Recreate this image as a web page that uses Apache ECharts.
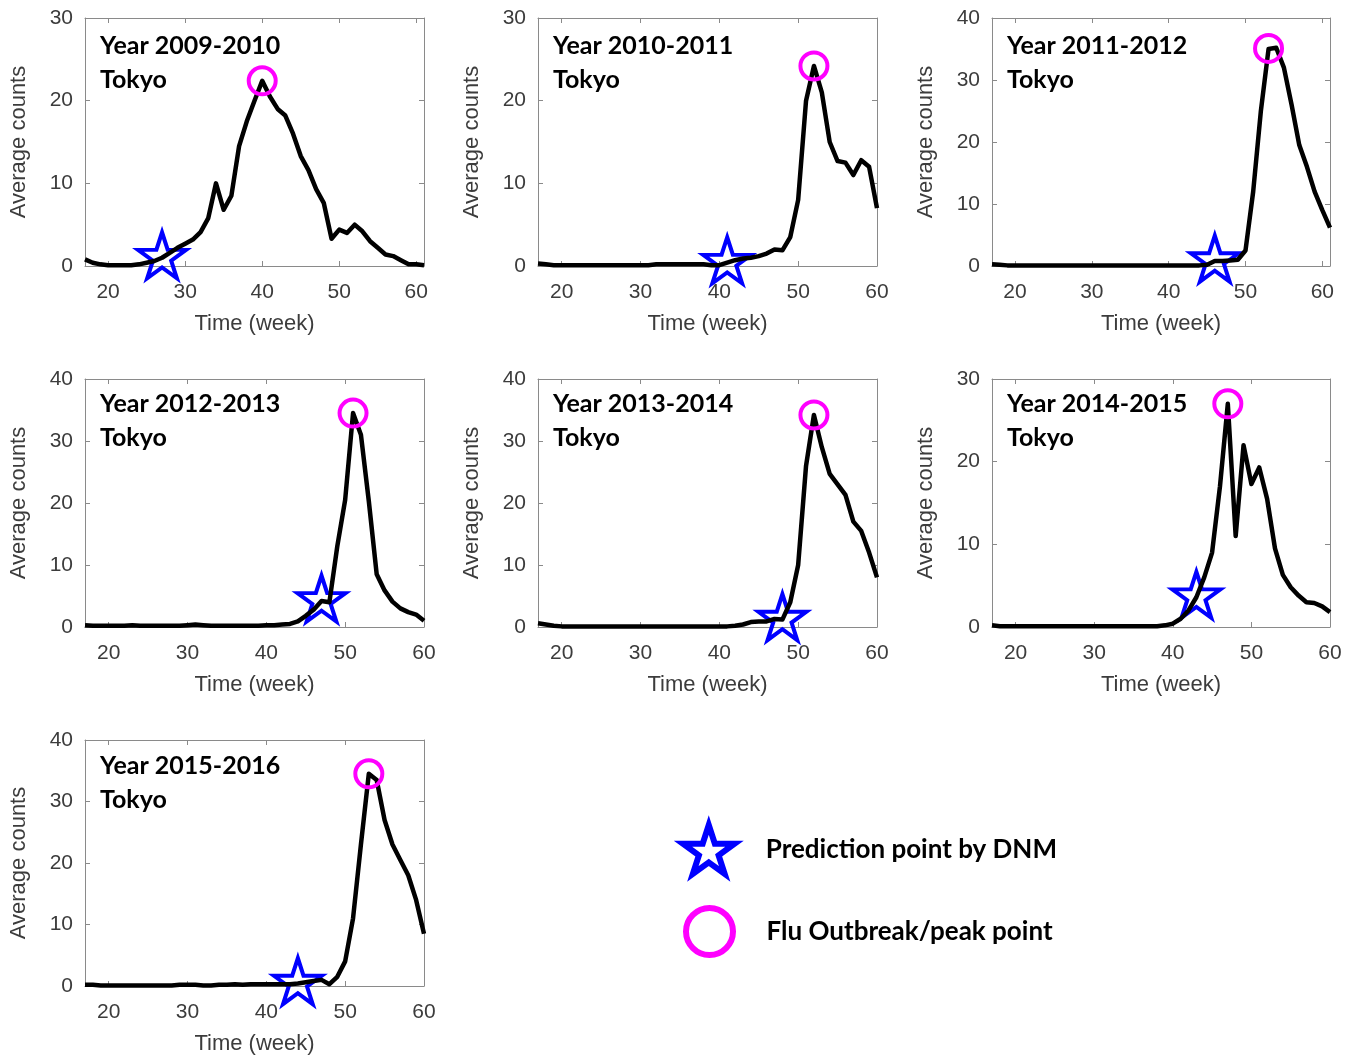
<!DOCTYPE html>
<html>
<head>
<meta charset="utf-8">
<script src="https://cdn.jsdelivr.net/npm/echarts@6/dist/echarts.min.js"></script>
<style>
html,body{margin:0;padding:0;background:#fff;}
#chart{width:1355px;height:1056px;}
</style>
</head>
<body>
<div id="chart"></div>
<script>
// ---------------- data ----------------
const weeks17to61 = [17,18,19,20,21,22,23,24,25,26,27,28,29,30,31,32,33,34,35,36,37,38,39,40,41,42,43,44,45,46,47,48,49,50,51,52,53,54,55,56,57,58,59,60,61];
const weeks17to60 = [17,18,19,20,21,22,23,24,25,26,27,28,29,30,31,32,33,34,35,36,37,38,39,40,41,42,43,44,45,46,47,48,49,50,51,52,53,54,55,56,57,58,59,60];

const seasons = ['2009-2010','2010-2011','2011-2012','2012-2013','2013-2014','2014-2015','2015-2016'];
const city = 'Tokyo';

const counts2009 = [0.8,0.4,0.2,0.1,0.1,0.1,0.1,0.2,0.4,0.6,1.0,1.6,2.2,2.7,3.2,4.1,5.8,10.0,6.8,8.5,14.5,17.5,20.0,22.4,20.5,19.0,18.2,16.0,13.3,11.6,9.3,7.6,3.3,4.4,4.0,5.0,4.2,3.0,2.2,1.4,1.2,0.7,0.2,0.2,0.1];
const counts2010 = [0.3,0.2,0.1,0.1,0.1,0.1,0.1,0.1,0.1,0.1,0.1,0.1,0.1,0.1,0.1,0.2,0.2,0.2,0.2,0.2,0.2,0.2,0.1,0.1,0.4,0.7,0.9,1.0,1.2,1.5,2.0,1.9,3.5,8.0,20.0,24.2,21.0,15.0,12.7,12.5,11.0,12.8,12.0,7.0];
const counts2011 = [0.3,0.2,0.1,0.1,0.1,0.1,0.1,0.1,0.1,0.1,0.1,0.1,0.1,0.1,0.1,0.1,0.1,0.1,0.1,0.1,0.1,0.1,0.1,0.1,0.1,0.1,0.1,0.1,0.2,0.8,0.8,0.9,1.0,2.5,12.0,25.0,35.0,35.2,32.0,26.0,19.5,16.0,12.0,9.0,6.2];
const counts2012 = [0.3,0.2,0.2,0.2,0.2,0.2,0.3,0.2,0.2,0.2,0.2,0.2,0.2,0.3,0.4,0.3,0.2,0.2,0.2,0.2,0.2,0.2,0.2,0.3,0.3,0.4,0.5,0.9,1.8,2.8,4.2,4.0,13.0,20.5,34.5,31.0,20.3,8.5,5.9,4.1,3.0,2.4,2.0,1.0];
const counts2013 = [0.6,0.4,0.2,0.1,0.1,0.1,0.1,0.1,0.1,0.1,0.1,0.1,0.1,0.1,0.1,0.1,0.1,0.1,0.1,0.1,0.1,0.1,0.1,0.1,0.1,0.2,0.4,0.8,0.9,0.9,1.3,1.2,4.0,10.0,26.0,34.2,29.0,24.7,23.0,21.3,17.0,15.5,12.0,8.0];
const counts2014 = [0.2,0.1,0.1,0.1,0.1,0.1,0.1,0.1,0.1,0.1,0.1,0.1,0.1,0.1,0.1,0.1,0.1,0.1,0.1,0.1,0.1,0.1,0.2,0.4,1.0,2.0,3.6,6.0,9.0,17.0,27.0,11.0,22.0,17.3,19.3,15.5,9.5,6.3,4.8,3.8,3.0,2.9,2.5,1.8];
const counts2015 = [0.2,0.2,0.1,0.1,0.1,0.1,0.1,0.1,0.1,0.1,0.1,0.1,0.2,0.2,0.2,0.1,0.1,0.2,0.2,0.3,0.2,0.3,0.3,0.3,0.3,0.3,0.3,0.4,0.6,0.8,1.0,0.3,1.5,4.0,11.0,23.0,34.5,33.5,27.0,23.0,20.5,18.0,14.0,8.5];

const predWeeks  = [27, 41, 46, 47, 48, 43, 44];
const predValues = [1.0, 0.4, 0.8, 4.2, 1.2, 3.6, 0.4];
const peakWeeks  = [40, 52, 53, 51, 52, 47, 53];
const peakValues = [22.4, 24.2, 35.1, 34.5, 34.2, 27.0, 34.5];

const xTickLabels = [20, 30, 40, 50, 60];
const yMaxes = [30, 30, 40, 40, 40, 30, 40];
const xMaxes = [61, 60, 61, 60, 60, 60, 60];

const legendNames = ['Prediction point by DNM', 'Flu Outbreak/peak point'];
const xAxisName = 'Time (week)';
const yAxisName = 'Average counts';

// ---------------- layout / styles ----------------
const allCounts = [counts2009, counts2010, counts2011, counts2012, counts2013, counts2014, counts2015];
const allWeeks = [weeks17to61, weeks17to60, weeks17to61, weeks17to60, weeks17to60, weeks17to60, weeks17to60];
const colLefts = [85, 538, 992];
const colWidths = [339, 339, 338];
const rowTops = [18, 379, 740];
const titleOffsets = [11, 8, 9];
const plotH = 248;

const starPath = 'path://M0,-50 L11.23,-15.45 L47.55,-15.45 L18.16,5.9 L29.39,40.45 L0,19.1 L-29.39,40.45 L-18.16,5.9 L-47.55,-15.45 L-11.23,-15.45 Z';

const axisGrey = '#8a8a8a';
const labelGrey = '#3c3c3c';
const fontAxis = 'Liberation Sans, Arial, sans-serif';
const fontBold = 'Lato, Open Sans, sans-serif';

const grid = [], xAxis = [], yAxis = [], series = [], title = [];

for (let i = 0; i < 7; i++) {
  const col = i % 3, row = Math.floor(i / 3);
  grid.push({left: colLefts[col], top: rowTops[row], width: colWidths[col], height: plotH});

  const xBase = {
    type: 'value', gridIndex: i, min: 17, max: xMaxes[i],
    axisLine: {show: true, onZero: false, lineStyle: {color: axisGrey, width: 1}},
    axisTick: {show: true, inside: true, length: 5, customValues: xTickLabels, lineStyle: {color: axisGrey}},
    splitLine: {show: false}
  };
  xAxis.push(Object.assign({}, xBase, {
    position: 'bottom',
    axisLabel: {show: true, customValues: xTickLabels, color: labelGrey, fontSize: 21, fontFamily: fontAxis, margin: 16},
    name: xAxisName, nameLocation: 'middle', nameGap: 47,
    nameTextStyle: {color: labelGrey, fontSize: 22, fontFamily: fontAxis}
  }));
  xAxis.push(Object.assign({}, xBase, {position: 'top', axisLabel: {show: false}}));

  const yBase = {
    type: 'value', gridIndex: i, min: 0, max: yMaxes[i], interval: 10,
    axisLine: {show: true, onZero: false, lineStyle: {color: axisGrey, width: 1}},
    axisTick: {show: true, inside: true, length: 5, lineStyle: {color: axisGrey}},
    splitLine: {show: false}
  };
  yAxis.push(Object.assign({}, yBase, {
    position: 'left',
    axisLabel: {show: true, color: labelGrey, fontSize: 21, fontFamily: fontAxis, margin: 12},
    name: yAxisName, nameLocation: 'middle', nameGap: 55, nameRotate: 90,
    nameTextStyle: {color: labelGrey, fontSize: 22, fontFamily: fontAxis}
  }));
  yAxis.push(Object.assign({}, yBase, {position: 'right', axisLabel: {show: false}}));

  const lineData = allWeeks[i].map((w, k) => [w, allCounts[i][k]]);
  series.push({
    type: 'line', xAxisIndex: 2 * i, yAxisIndex: 2 * i, data: lineData,
    showSymbol: false, symbol: 'none', silent: true, z: 3,
    lineStyle: {color: '#000', width: 4.5, join: 'round'}
  });
  series.push({
    type: 'scatter', name: legendNames[0], xAxisIndex: 2 * i, yAxisIndex: 2 * i,
    data: [[predWeeks[i], predValues[i]]], symbol: starPath, symbolSize: [48, 46],
    symbolOffset: [0, -2.4], silent: true, z: 2,
    itemStyle: {color: 'rgba(0,0,0,0)', borderColor: '#0000ff', borderWidth: 4, borderJoin: 'miter', borderMiterLimit: 10, opacity: 1}
  });
  series.push({
    type: 'scatter', name: legendNames[1], xAxisIndex: 2 * i, yAxisIndex: 2 * i,
    data: [[peakWeeks[i], peakValues[i]]], symbol: 'circle', symbolSize: 27, silent: true, z: 4,
    itemStyle: {color: 'rgba(0,0,0,0)', borderColor: '#ff00ff', borderWidth: 4, opacity: 1}
  });

  title.push({
    text: 'Year ' + seasons[i] + '\n' + city,
    left: colLefts[col] + 15, top: rowTops[row] + titleOffsets[row], padding: 0,
    textStyle: {fontFamily: fontBold, fontWeight: 'bold', fontSize: 25, lineHeight: 34, color: '#000'}
  });
}

const legend = [
  {
    data: [{name: legendNames[0], icon: starPath}],
    left: 680, top: 822, orient: 'vertical', padding: 0,
    itemWidth: 104, itemHeight: 49, selectedMode: false,
    itemStyle: {color: 'rgba(0,0,0,0)', borderColor: '#0000ff', borderWidth: 6},
    textStyle: {fontFamily: fontBold, fontWeight: 'bold', fontSize: 26, color: '#000'}
  },
  {
    data: [{name: legendNames[1], icon: 'circle'}],
    left: 683, top: 905, orient: 'vertical', padding: 0,
    itemWidth: 104, itemHeight: 47, selectedMode: false,
    itemStyle: {color: 'rgba(0,0,0,0)', borderColor: '#ff00ff', borderWidth: 6},
    textStyle: {fontFamily: fontBold, fontWeight: 'bold', fontSize: 26, color: '#000'}
  }
];

const chart = echarts.init(document.getElementById('chart'), null, {renderer: 'canvas'});
chart.setOption({
  backgroundColor: '#fff',
  animation: false,
  title: title,
  legend: legend,
  grid: grid,
  xAxis: xAxis,
  yAxis: yAxis,
  series: series
});
</script>
</body>
</html>
